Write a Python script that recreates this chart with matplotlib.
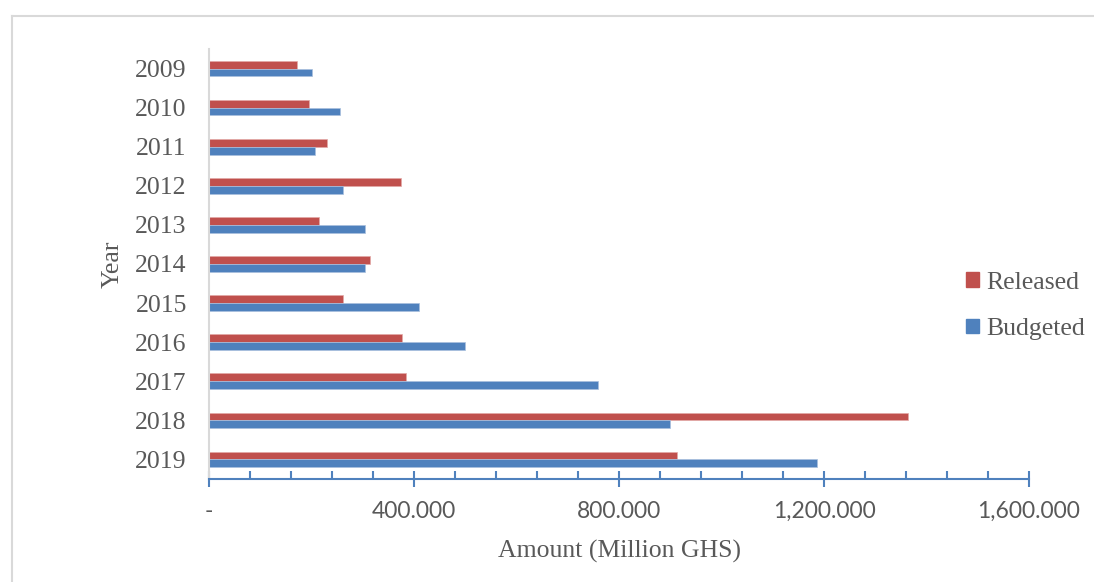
import matplotlib
matplotlib.use("Agg")
import matplotlib.pyplot as plt
from matplotlib.patches import Patch
from matplotlib.lines import Line2D
from matplotlib.ticker import FuncFormatter, MultipleLocator
import numpy as np

years = ["2009", "2010", "2011", "2012", "2013", "2014",
         "2015", "2016", "2017", "2018", "2019"]
released = [171, 196, 230, 374, 215, 314, 262, 377, 384, 1364, 914]
budgeted = [201, 256, 206, 261, 305, 305, 410, 500, 759, 900, 1186]

RED = "#C0504D"
BLUE = "#4F81BD"
TEXT = "#595959"
SERIF = ["Liberation Serif", "DejaVu Serif"]
SANS = ["Lato", "DejaVu Sans"]

W, H = 1094, 582
fig = plt.figure(figsize=(W / 100, H / 100), dpi=100)
ax = fig.add_axes([209 / W, 1 - 479 / H, 820 / W, 430 / H])

y = np.arange(len(years))
h = 0.2
ax.barh(y - h / 2, released, height=h, color=RED, edgecolor="#e3a9a7", lw=0.5, label="Released")
ax.barh(y + h / 2, budgeted, height=h, color=BLUE, edgecolor="#a9c0de", lw=0.5, label="Budgeted")

ax.set_ylim(len(years) - 0.5, -0.5)
ax.set_xlim(0, 1600)
ax.set_yticks(y)
ax.set_yticklabels(years, family=SERIF, fontsize=18.5, color=TEXT)
ax.tick_params(axis="y", length=0, pad=16)

ax.xaxis.set_major_locator(MultipleLocator(400))
ax.xaxis.set_minor_locator(MultipleLocator(80))
ax.xaxis.set_major_formatter(FuncFormatter(lambda v, p: "-" if v == 0 else f"{v:,.3f}"))
ax.tick_params(axis="x", which="major", direction="inout", length=11, width=1.5,
               color=BLUE, pad=10, labelsize=16.5, labelcolor=TEXT)
ax.tick_params(axis="x", which="minor", direction="in", length=6, width=1.5, color=BLUE)
for lab in ax.get_xticklabels():
    lab.set_family(SANS)

for s in ("top", "right"):
    ax.spines[s].set_visible(False)
ax.spines["bottom"].set_color(BLUE)
ax.spines["bottom"].set_linewidth(1.5)
ax.spines["left"].set_color("#d9d9d9")
ax.spines["left"].set_linewidth(1.5)

ax.set_xlabel("Amount (Million GHS)", family=SERIF, fontsize=18.5, color=TEXT, labelpad=13)
ax.set_ylabel("Year", family=SERIF, fontsize=18.5, color=TEXT, labelpad=8)

handles = [Patch(facecolor=RED, edgecolor=RED), Patch(facecolor=BLUE, edgecolor=BLUE)]
fig.legend(handles, ["Released", "Budgeted"], loc="center left",
           bbox_to_anchor=(943 / W, 1 - 306 / H), frameon=False,
           prop={"family": SERIF, "size": 18.5}, labelcolor=TEXT,
           handlelength=0.5, handleheight=0.5, handletextpad=0.3, labelspacing=0.95)

# chart frame (top and left edges visible)
fig.add_artist(Line2D([12 / W, 12 / W], [0, 1 - 16 / H], transform=fig.transFigure,
                      color="#d9d9d9", lw=1.5))
fig.add_artist(Line2D([12 / W, 1], [1 - 16 / H, 1 - 16 / H], transform=fig.transFigure,
                      color="#d9d9d9", lw=1.5))

fig.savefig("out.png", dpi=100)
